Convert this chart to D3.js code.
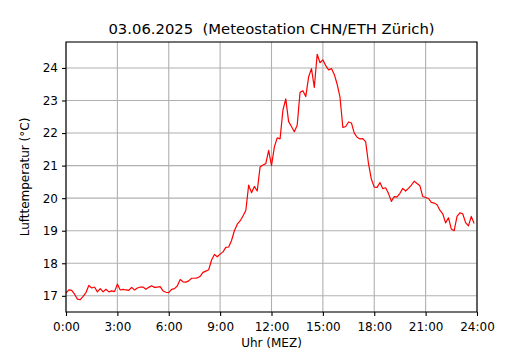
<!DOCTYPE html>
<html>
<head>
<meta charset="utf-8">
<script src="https://cdn.jsdelivr.net/npm/d3@7"></script>
<style>
  body { margin: 0; background: #fff; }
  svg { display: block; font-family: "DejaVu Sans", sans-serif; }
</style>
</head>
<body>
<div class="chart"></div>
<script>
// 10-min Werte, 00:00 bis 23:50
var temps = [
  17.08, 17.18, 17.17, 17.05, 16.90, 16.88, 16.98, 17.10, 17.32, 17.24, 17.27, 17.12,
  17.22, 17.12, 17.20, 17.12, 17.15, 17.13, 17.36, 17.18, 17.20, 17.18, 17.17, 17.26,
  17.18, 17.24, 17.27, 17.27, 17.20, 17.26, 17.31, 17.26, 17.27, 17.28, 17.15, 17.11,
  17.10, 17.20, 17.22, 17.30, 17.50, 17.43, 17.42, 17.46, 17.54, 17.54, 17.55, 17.60,
  17.72, 17.76, 17.80, 18.10, 18.27, 18.20, 18.28, 18.35, 18.49, 18.50, 18.70, 19.00,
  19.20, 19.30, 19.45, 19.62, 20.40, 20.17, 20.36, 20.22, 20.96, 21.02, 21.06, 21.47,
  21.00, 21.57, 21.85, 21.82, 22.70, 23.05, 22.35, 22.20, 22.04, 22.24, 23.25, 23.30,
  23.12, 23.72, 23.98, 23.40, 24.42, 24.16, 24.25, 24.07, 23.94, 23.98, 23.80, 23.50,
  23.10, 22.17, 22.20, 22.34, 22.31, 22.00, 21.87, 21.82, 21.83, 21.73, 21.05, 20.58,
  20.34, 20.33, 20.48, 20.29, 20.32, 20.14, 19.90, 20.05, 20.04, 20.15, 20.30, 20.22,
  20.30, 20.40, 20.52, 20.45, 20.38, 20.05, 20.02, 19.99, 19.87, 19.85, 19.80, 19.63,
  19.52, 19.24, 19.40, 19.05, 19.00, 19.44, 19.55, 19.52, 19.25, 19.15, 19.44, 19.22
];
var xTickHours = [0, 3, 6, 9, 12, 15, 18, 21, 24];
var yTicks = [17, 18, 19, 20, 21, 22, 23, 24];
var title = "03.06.2025  (Meteostation CHN/ETH Zürich)";

var width = 530, height = 350;
var margin = { top: 42, right: 53, bottom: 38, left: 66 };
var w = width - margin.left - margin.right;
var h = height - margin.top - margin.bottom;

var svg = d3.select(".chart").append("svg")
    .attr("width", width)
    .attr("height", height);

var g = svg.append("g")
    .attr("transform", "translate(" + margin.left + "," + margin.top + ")");

// Minuten seit Mitternacht
var x = d3.scaleLinear().domain([0, 1440]).range([0, w]);

var ext = d3.extent(temps);
var pad = (ext[1] - ext[0]) * 0.05;
var y = d3.scaleLinear().domain([ext[0] - pad, ext[1] + pad]).range([h, 0]);

// grid
g.selectAll(".vgrid").data(xTickHours).enter().append("line")
    .attr("x1", function(d) { return x(d * 60); })
    .attr("x2", function(d) { return x(d * 60); })
    .attr("y1", 0).attr("y2", h)
    .style("stroke", "#b0b0b0").style("stroke-width", 1.1);
g.selectAll(".hgrid").data(yTicks).enter().append("line")
    .attr("x1", 0).attr("x2", w)
    .attr("y1", function(d) { return y(d); })
    .attr("y2", function(d) { return y(d); })
    .style("stroke", "#b0b0b0").style("stroke-width", 1.1);

// line
var line = d3.line()
    .x(function(d, i) { return x(i * 10); })
    .y(function(d) { return y(d); });

g.append("path")
    .datum(temps)
    .attr("d", line)
    .style("fill", "none")
    .style("stroke", "red")
    .style("stroke-width", 1.2)
    .style("stroke-linejoin", "round");

// axes
var xAxis = d3.axisBottom(x)
    .tickValues(xTickHours.map(function(d) { return d * 60; }))
    .tickFormat(function(d) { return (d / 60) + ":00"; })
    .tickSizeOuter(0).tickSize(4).tickPadding(6);
var yAxis = d3.axisLeft(y)
    .tickValues(yTicks)
    .tickSizeOuter(0).tickSize(4).tickPadding(4);

var gx = g.append("g").attr("transform", "translate(0," + h + ")").call(xAxis);
var gy = g.append("g").call(yAxis);
[gx, gy].forEach(function(a) {
  a.select(".domain").remove();
  a.selectAll("line").style("stroke", "#000").style("stroke-width", 1.1);
  a.selectAll("text").style("font-size", "12px").style("fill", "#000")
    .style("font-family", "DejaVu Sans");
});

// frame
g.append("rect")
    .attr("x", 0).attr("y", 0).attr("width", w).attr("height", h)
    .style("fill", "none").style("stroke", "#000").style("stroke-width", 1.1);

// texts
svg.append("text")
    .attr("x", margin.left + w / 2).attr("y", 34)
    .attr("text-anchor", "middle")
    .style("font-size", "14.8px")
    .style("white-space", "pre")
    .text(title);

svg.append("text")
    .attr("x", margin.left + w / 2).attr("y", 347)
    .attr("text-anchor", "middle")
    .style("font-size", "12px")
    .text("Uhr (MEZ)");

svg.append("text")
    .attr("transform", "translate(29," + (margin.top + h / 2) + ") rotate(-90)")
    .attr("text-anchor", "middle")
    .style("font-size", "12px")
    .text("Lufttemperatur (°C)");
</script>
</body>
</html>
